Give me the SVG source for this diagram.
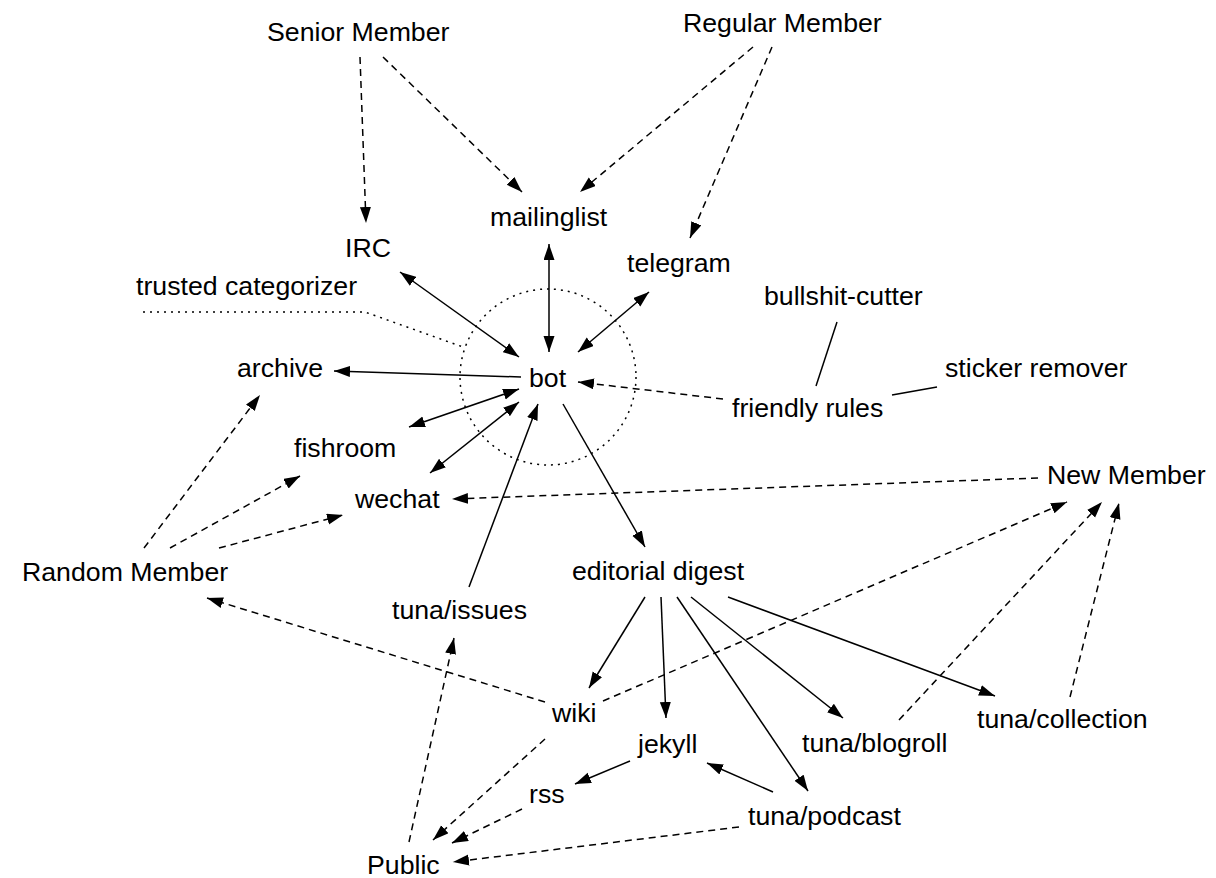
<svg xmlns="http://www.w3.org/2000/svg" width="1216" height="878" viewBox="0 0 1216 878">
<style>
text{font-family:"Liberation Sans",Arial,Helvetica,sans-serif;font-size:26.7px;fill:#000}
.s{stroke:#000;stroke-width:1.5;fill:none}
.d{stroke:#000;stroke-width:1.5;fill:none;stroke-dasharray:7,5}
.o{stroke:#000;stroke-width:1.5;fill:none;stroke-dasharray:2,5}
.a{marker-end:url(#ah)}
.b{marker-start:url(#ah);marker-end:url(#ah)}
</style>
<defs>
<marker id="ah" markerUnits="userSpaceOnUse" markerWidth="17" markerHeight="12" refX="16" refY="5.5" orient="auto-start-reverse" viewBox="0 0 17 12">
<path d="M0,0 L16,5.5 L0,11 z" fill="#000"/>
</marker>
</defs>
<rect width="1216" height="878" fill="#fff"/>
<g id="connectors">
<line class="d a" x1="360" y1="57" x2="366" y2="223"/>
<line class="d a" x1="383" y1="57" x2="522" y2="192"/>
<line class="d a" x1="753" y1="47" x2="580" y2="192"/>
<line class="d a" x1="772" y1="47" x2="690" y2="238"/>
<line class="d a" x1="723" y1="399" x2="578" y2="382"/>
<line class="d a" x1="1038" y1="478" x2="452" y2="499"/>
<line class="d a" x1="144" y1="548" x2="260" y2="395"/>
<line class="d a" x1="170" y1="548" x2="300" y2="476"/>
<line class="d a" x1="219" y1="548" x2="343" y2="515"/>
<line class="d a" x1="545" y1="702" x2="207" y2="598"/>
<line class="d a" x1="603" y1="701" x2="1067" y2="502"/>
<line class="d a" x1="899" y1="720" x2="1102" y2="502"/>
<line class="d a" x1="1070" y1="697" x2="1119" y2="503"/>
<line class="d a" x1="409" y1="842" x2="454" y2="638"/>
<line class="d a" x1="545" y1="739" x2="433" y2="840"/>
<line class="d a" x1="522" y1="809" x2="452" y2="843"/>
<line class="d a" x1="739" y1="827" x2="453" y2="862"/>
<line class="s a" x1="521" y1="377" x2="334" y2="371"/>
<line class="s a" x1="469" y1="587" x2="538" y2="404"/>
<line class="s a" x1="563" y1="404" x2="645" y2="547"/>
<line class="s a" x1="645" y1="597" x2="589" y2="688"/>
<line class="s a" x1="661" y1="597" x2="666" y2="718"/>
<line class="s a" x1="677" y1="597" x2="808" y2="791"/>
<line class="s a" x1="691" y1="597" x2="843" y2="718"/>
<line class="s a" x1="728" y1="597" x2="995" y2="696"/>
<line class="s a" x1="630" y1="761" x2="575" y2="784"/>
<line class="s a" x1="773" y1="792" x2="707" y2="763"/>
<line class="s b" x1="549" y1="244" x2="549" y2="352"/>
<line class="s b" x1="400" y1="272" x2="519" y2="357"/>
<line class="s b" x1="649" y1="292" x2="578" y2="352"/>
<line class="s b" x1="519" y1="389" x2="409" y2="427"/>
<line class="s b" x1="519" y1="402" x2="430" y2="473"/>
<line class="s" x1="837" y1="322" x2="816" y2="386"/>
<line class="s" x1="892" y1="395" x2="937" y2="387"/>
<circle class="o" cx="548" cy="377" r="88"/>
<polyline class="o" points="143,312 365,312 463,347"/>
</g>
<g id="senior-member"><text x="267" y="41">Senior Member</text></g>
<g id="regular-member"><text x="683" y="32">Regular Member</text></g>
<g id="mailinglist"><text x="490" y="226">mailinglist</text></g>
<g id="irc"><text x="345" y="257">IRC</text></g>
<g id="telegram"><text x="627" y="272">telegram</text></g>
<g id="trusted-categorizer"><text x="136" y="295">trusted categorizer</text></g>
<g id="bullshit-cutter"><text x="764" y="305">bullshit-cutter</text></g>
<g id="archive"><text x="237" y="377">archive</text></g>
<g id="bot"><text x="529" y="387">bot</text></g>
<g id="sticker-remover"><text x="945" y="377">sticker remover</text></g>
<g id="friendly-rules"><text x="732" y="417">friendly rules</text></g>
<g id="fishroom"><text x="294" y="457">fishroom</text></g>
<g id="new-member"><text x="1047" y="484">New Member</text></g>
<g id="wechat"><text x="355" y="508">wechat</text></g>
<g id="random-member"><text x="22" y="581">Random Member</text></g>
<g id="editorial-digest"><text x="572" y="580">editorial digest</text></g>
<g id="tuna-issues"><text x="392" y="619">tuna/issues</text></g>
<g id="wiki"><text x="552" y="722">wiki</text></g>
<g id="tuna-collection"><text x="977" y="728">tuna/collection</text></g>
<g id="jekyll"><text x="638" y="753">jekyll</text></g>
<g id="tuna-blogroll"><text x="802" y="752">tuna/blogroll</text></g>
<g id="rss"><text x="529" y="803">rss</text></g>
<g id="tuna-podcast"><text x="748" y="825">tuna/podcast</text></g>
<g id="public"><text x="367" y="874">Public</text></g>
</svg>
